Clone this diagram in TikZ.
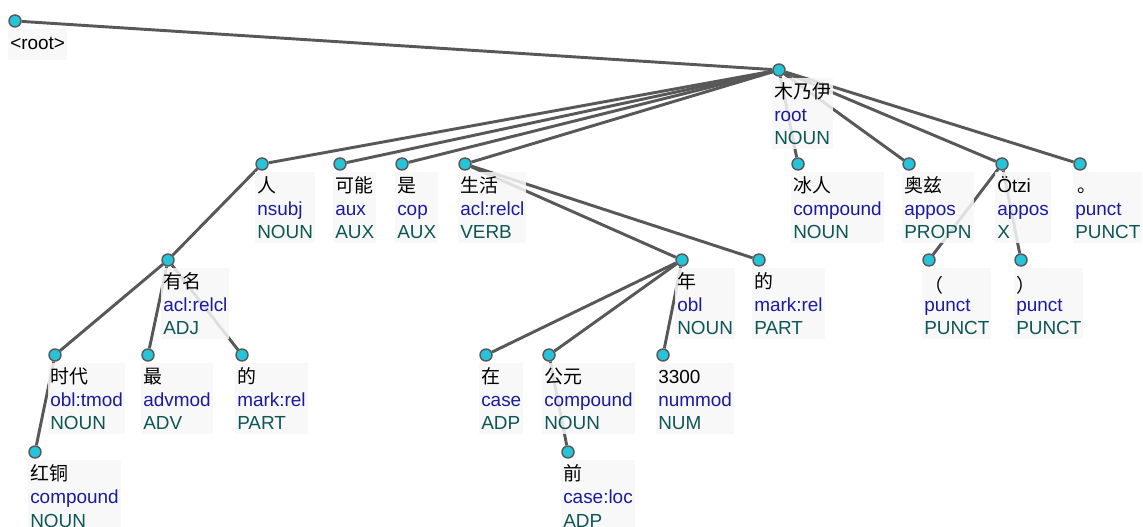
\documentclass[tikz,border=0pt]{standalone}
\usepackage{fontspec}
\setmainfont{Liberation Sans}
\newfontfamily\cjk{Noto Sans CJK SC}
\usepackage{tikz}
\usetikzlibrary{positioning}
\definecolor{relblue}{RGB}{26,26,160}
\definecolor{posteal}{RGB}{14,86,86}
\definecolor{edgegray}{RGB}{88,88,88}
\definecolor{dotcyan}{RGB}{38,196,216}
\newcommand{\word}[1]{\strut{\cjk #1}}
\newcommand{\dep}[1]{{\color{relblue}#1}}
\newcommand{\upos}[1]{{\color{posteal}#1}}
\newcommand{\lowered}[2]{\raisebox{-#1}[0pt][0pt]{#2}}
\pgfdeclarelayer{bg}
\pgfsetlayers{bg,main}

\begin{document}
\begin{tikzpicture}[x=0.75pt,y=-0.75pt,
  dot/.style={circle,fill=dotcyan,draw=edgegray,line width=1.1pt,minimum size=9pt,inner sep=0pt},
  lbl/.style={anchor=north west,align=left,inner xsep=1.5pt,inner ysep=2.8pt,fill=gray!6,fill opacity=0.85,
    text opacity=1,font=\fontsize{14.2}{17.5}\selectfont},
  arc/.style={draw=edgegray,line width=2.2pt}]

  \useasboundingbox (0,0) rectangle (1143,527);

  % tokens
  \node[dot] (root) at (15,21) {};
  \node[dot] (mny) at (779,70) {};
  \node[dot] (ren) at (262,164) {};
  \node[dot] (kn) at (340,164) {};
  \node[dot] (shi) at (402,164) {};
  \node[dot] (sh) at (465,164) {};
  \node[dot] (br) at (798,164) {};
  \node[dot] (az) at (909,164) {};
  \node[dot] (otzi) at (1002,164) {};
  \node[dot] (jh) at (1080,164) {};
  \node[dot] (ym) at (168,260) {};
  \node[dot] (nian) at (682,260) {};
  \node[dot] (de) at (759,260) {};
  \node[dot] (lp) at (929,260) {};
  \node[dot] (rp) at (1021,260) {};
  \node[dot] (sd) at (55,355) {};
  \node[dot] (zui) at (148,355) {};
  \node[dot] (deb) at (242,355) {};
  \node[dot] (zai) at (486,355) {};
  \node[dot] (gy) at (549,355) {};
  \node[dot] (num) at (663,355) {};
  \node[dot] (ht) at (35,452) {};
  \node[dot] (qian) at (568,452) {};

  % labels
  \node[lbl] (root-l) at ([shift={(-7,8)}]root.center) {\strut<root>};
  \node[lbl] (mny-l) at ([shift={(-7,8)}]mny.center) {\word{木乃伊}\\\dep{root}\\\upos{NOUN}};
  \node[lbl] (ren-l) at ([shift={(-7,8)}]ren.center) {\word{人}\\\dep{nsubj}\\\upos{NOUN}};
  \node[lbl] (kn-l) at ([shift={(-7,8)}]kn.center) {\word{可能}\\\dep{aux}\\\upos{AUX}};
  \node[lbl] (shi-l) at ([shift={(-7,8)}]shi.center) {\word{是}\\\dep{cop}\\\upos{AUX}};
  \node[lbl] (sh-l) at ([shift={(-7,8)}]sh.center) {\word{生活}\\\dep{acl:relcl}\\\upos{VERB}};
  \node[lbl] (br-l) at ([shift={(-7,8)}]br.center) {\word{冰人}\\\dep{compound}\\\upos{NOUN}};
  \node[lbl] (az-l) at ([shift={(-7,8)}]az.center) {\word{奥兹}\\\dep{appos}\\\upos{PROPN}};
  \node[lbl] (otzi-l) at ([shift={(-7,8)}]otzi.center) {\strut Ötzi\\\dep{appos}\\\upos{X}};
  \node[lbl] (jh-l) at ([shift={(-7,8)}]jh.center) {\strut\hspace{2pt}{\cjk 。}\\\dep{punct}\\\upos{PUNCT}};
  \node[lbl] (ym-l) at ([shift={(-7,8)}]ym.center) {\word{有名}\\\dep{acl:relcl}\\\upos{ADJ}};
  \node[lbl] (nian-l) at ([shift={(-7,8)}]nian.center) {\word{年}\\\dep{obl}\\\upos{NOUN}};
  \node[lbl] (de-l) at ([shift={(-7,8)}]de.center) {\word{的}\\\dep{mark:rel}\\\upos{PART}};
  \node[lbl] (lp-l) at ([shift={(-7,8)}]lp.center) {\strut\lowered{3pt}{\cjk （}\\\dep{punct}\\\upos{PUNCT}};
  \node[lbl] (rp-l) at ([shift={(-7,8)}]rp.center) {\strut\lowered{3pt}{\cjk ）}\\\dep{punct}\\\upos{PUNCT}};
  \node[lbl] (sd-l) at ([shift={(-7,8)}]sd.center) {\word{时代}\\\dep{obl:tmod}\\\upos{NOUN}};
  \node[lbl] (zui-l) at ([shift={(-7,8)}]zui.center) {\word{最}\\\dep{advmod}\\\upos{ADV}};
  \node[lbl] (deb-l) at ([shift={(-7,8)}]deb.center) {\word{的}\\\dep{mark:rel}\\\upos{PART}};
  \node[lbl] (zai-l) at ([shift={(-7,8)}]zai.center) {\word{在}\\\dep{case}\\\upos{ADP}};
  \node[lbl] (gy-l) at ([shift={(-7,8)}]gy.center) {\word{公元}\\\dep{compound}\\\upos{NOUN}};
  \node[lbl] (num-l) at ([shift={(-7,8)}]num.center) {\strut 3300\\\dep{nummod}\\\upos{NUM}};
  \node[lbl] (ht-l) at ([shift={(-7,8)}]ht.center) {\word{红铜}\\\dep{compound}\\\upos{NOUN}};
  \node[lbl] (qian-l) at ([shift={(-7,8)}]qian.center) {\word{前}\\\dep{case:loc}\\\upos{ADP}};

  % dependency arcs, under the labels
  \begin{pgfonlayer}{bg}
    \path[arc] (root) -- (mny);
    \foreach \d in {ren,kn,shi,sh,br,az,otzi,jh}
      \path[arc] (mny) -- (\d);
    \path[arc] (ren) -- (ym);
    \foreach \d in {sd,zui,deb}
      \path[arc] (ym) -- (\d);
    \path[arc] (sd) -- (ht);
    \path[arc] (sh) -- (nian);
    \path[arc] (sh) -- (de);
    \foreach \d in {zai,gy,num}
      \path[arc] (nian) -- (\d);
    \path[arc] (gy) -- (qian);
    \path[arc] (otzi) -- (lp);
    \path[arc] (otzi) -- (rp);
  \end{pgfonlayer}

\end{tikzpicture}
\end{document}
